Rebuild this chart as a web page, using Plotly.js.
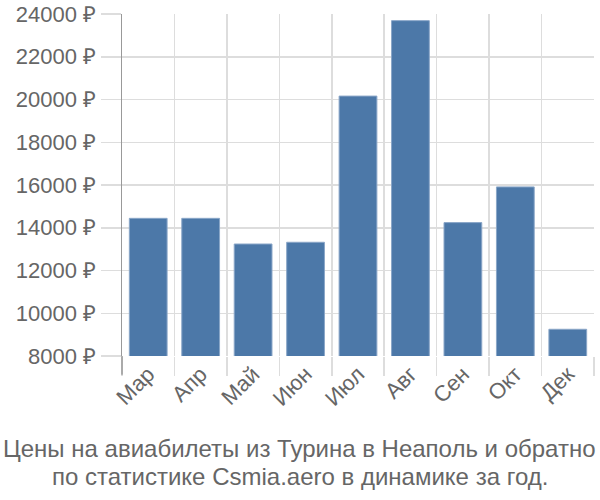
<!DOCTYPE html>
<html>
<head>
<meta charset="utf-8">
<script src="https://cdn.plot.ly/plotly-3.0.1.min.js"></script>
<style>html,body{margin:0;padding:0;background:#fff;}#chart{width:600px;height:500px;}</style>
</head>
<body>
<div id="chart"></div>
<script>
const months = ["Мар", "Апр", "Май", "Июн", "Июл", "Авг", "Сен", "Окт", "Дек"];
const prices = [14440, 14440, 13240, 13320, 20160, 23690, 14240, 15910, 9250];
const titleLines = ["Цены на авиабилеты из Турина в Неаполь и обратно", "по статистике Csmia.aero в динамике за год."];

const fam = "Liberation Sans, Arial, sans-serif";
const font = {family: fam, size: 22, color: "#666"};
const titleY = [-0.27, -0.352];

Plotly.newPlot("chart", [{
  type: "bar",
  x: months,
  y: prices,
  marker: {color: "#4c78a8", line: {color: "#8aa6c8", width: 1}},
  hoverinfo: "none"
}], {
  width: 600, height: 500,
  margin: {l: 122, r: 6, t: 14, b: 144},
  paper_bgcolor: "#fff", plot_bgcolor: "#fff",
  font: font,
  bargap: 0.28,
  showlegend: false,
  xaxis: {
    type: "category",
    tickson: "boundaries",
    ticks: "outside", ticklen: 19, tickcolor: "#ddd", tickwidth: 1.5,
    showgrid: true, gridcolor: "#ddd", gridwidth: 1.5,
    tickangle: -45,
    tickfont: {family: fam, size: 22, color: "#666"},
    showline: false, zeroline: false
  },
  yaxis: {
    range: [8000, 24000],
    dtick: 2000, tick0: 0,
    tickformat: "d", ticksuffix: " ₽",
    ticks: "outside", ticklen: 20, tickcolor: "#ddd", tickwidth: 1.5,
    showgrid: true, gridcolor: "#ddd", gridwidth: 1.5,
    showline: true, linecolor: "#999", linewidth: 1.5,
    zeroline: false,
    tickfont: {family: fam, size: 22, color: "#666"}
  },
  shapes: [{
    type: "line", xref: "paper", yref: "paper", x0: 0, x1: 0, y0: 0, y1: -0.055,
    line: {color: "#999", width: 1.5}
  }],
  annotations: titleLines.map((t, i) => ({
    xref: "paper", yref: "paper", x: 0.377, y: titleY[i], xanchor: "center", yanchor: "middle",
    text: t, showarrow: false,
    font: {family: fam, size: 24, color: "#666"}
  }))
}, {displayModeBar: false, staticPlot: true});
</script>
</body>
</html>
